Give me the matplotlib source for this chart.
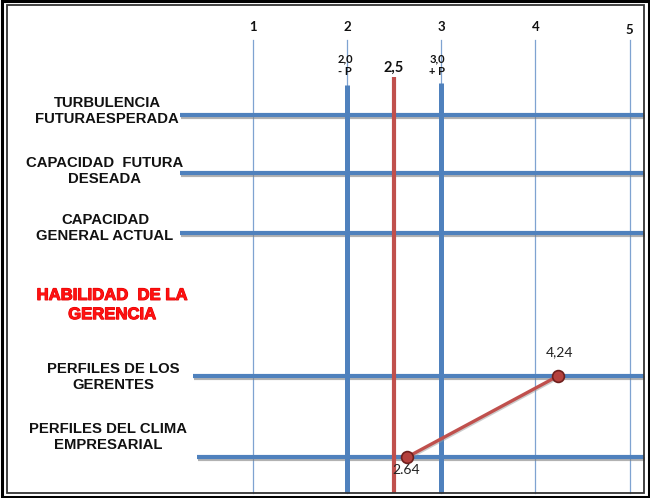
import matplotlib
matplotlib.use("Agg")
import matplotlib.pyplot as plt
import matplotlib.patheffects as pe
from matplotlib.patches import Rectangle

# ---- data ----
row_labels = [
    "TURBULENCIA\nFUTURAESPERADA",
    "CAPACIDAD  FUTURA\nDESEADA",
    "CAPACIDAD\nGENERAL ACTUAL",
    "HABILIDAD  DE LA\nGERENCIA",
    "PERFILES DE LOS\nGERENTES",
    "PERFILES DEL CLIMA\nEMPRESARIAL",
]
row_has_line = [True, True, True, False, True, True]
scale_ticks = [1, 2, 3, 4, 5]
scale_labels = ["1", "2", "3", "4", "5"]
low_limit = 2.0
mid_value = 2.5
high_limit = 3.0
low_label = "2,0\n- P"
mid_label = "2,5"
high_label = "3,0\n+ P"
profile_rows = [4, 5]            # indices into row_labels
profile_values = [4.24, 2.64]
profile_texts = ["4,24", "2.64"]

# ---- layout ----
W, H = 650, 498
fig = plt.figure(figsize=(W / 100, H / 100), dpi=100)
ax = fig.add_axes([0, 0, 1, 1])
x0, slope = 3.0, 94.2
def px(p):
    return x0 + (p - 441.2) / slope
ax.set_xlim(px(0), px(W))
ax.set_ylim(H, 0)
ax.axis("off")

row_y = [115, 173, 233, 305, 376, 457]
label_y = [111, 171, 228, 305, 377, 437]
label_x = [107, 105, 105, 112, 113, 108]
line_start = [180, 180, 180, None, 193, 197]
line_end = px(644)
top_thin = 40
bottom = 493

blue = "#4F81BD"
thin_blue = "#7FA3D1"
red = "#C0504D"

# thin vertical scale lines
for t in scale_ticks:
    ax.plot([t, t], [top_thin, bottom], color=thin_blue, lw=0.9, zorder=1)
for t, lab in zip(scale_ticks, scale_labels):
    yy = 30 if t == 5 else 27
    ax.text(t, yy, lab, ha="center", va="center", fontsize=9.5,
            fontweight="bold", family="Lato", color="#111111")

shadow = [pe.SimpleLineShadow(offset=(0.6, -1.6), shadow_color="#808080", alpha=0.6), pe.Normal()]

# horizontal row lines
for i, has in enumerate(row_has_line):
    if has:
        ax.plot([px(line_start[i]), line_end], [row_y[i], row_y[i]], color=blue,
                lw=3.0, solid_capstyle="butt", zorder=3, path_effects=shadow)

# thick vertical limit lines
ax.plot([low_limit, low_limit], [85, bottom], color=blue, lw=3.6,
        solid_capstyle="butt", zorder=4)
ax.plot([high_limit, high_limit], [83, bottom], color=blue, lw=3.6,
        solid_capstyle="butt", zorder=4)
ax.plot([mid_value, mid_value], [77, bottom], color=red, lw=3.0,
        solid_capstyle="butt", zorder=4)

ax.text(low_limit - 0.02, 65, low_label, ha="center", va="center", fontsize=8,
        fontweight="bold", family="Lato", linespacing=1.25, color="#111111")
ax.text(high_limit - 0.04, 65, high_label, ha="center", va="center", fontsize=8,
        fontweight="bold", family="Lato", linespacing=1.25, color="#111111")
ax.text(mid_value, 68, mid_label, ha="center", va="center", fontsize=10.5,
        fontweight="bold", family="Lato", color="#111111")

# row labels
for i, lab in enumerate(row_labels):
    if row_has_line[i]:
        ax.text(px(label_x[i]), label_y[i], lab, ha="center", va="center",
                fontsize=10.7, fontweight="bold", family="Liberation Sans",
                color="#111111", linespacing=1.2)
    else:
        ax.text(px(label_x[i]), label_y[i], lab, ha="center", va="center",
                fontsize=12, fontweight="bold", family="Liberation Sans",
                color="#FF1010", linespacing=1.35,
                path_effects=[pe.withStroke(linewidth=0.8, foreground="#E00000")])

# profile line
py = [row_y[r] for r in profile_rows]
ax.plot(profile_values, py, color=red, lw=2.4, zorder=6,
        path_effects=[pe.SimpleLineShadow(offset=(0.8, -0.8), shadow_color="#999999", alpha=0.5), pe.Normal()])
ax.plot(profile_values, py, linestyle="none", marker="o", markersize=8.5,
        markerfacecolor="#B5413E", markeredgecolor="#6E1F1D", markeredgewidth=1.2, zorder=7)
ax.text(profile_values[0] + 0.02, py[0] - 24, profile_texts[0], ha="center", va="center",
        fontsize=10, family="Lato", color="#222222")
ax.text(profile_values[1] - 0.01, py[1] + 13, profile_texts[1], ha="center", va="center",
        fontsize=10, family="Lato", color="#222222", zorder=8)

# double frame
fig.patches.append(Rectangle((1.5 / W, 1.5 / H), 1 - 3 / W, 1 - 3 / H, transform=fig.transFigure,
                             fill=False, edgecolor="black", lw=2.2))
fig.patches.append(Rectangle((6.5 / W, 5.5 / H), 1 - 13 / W, 1 - 11 / H, transform=fig.transFigure,
                             fill=False, edgecolor="#333333", lw=1.3))

fig.savefig("out.png", dpi=100)
